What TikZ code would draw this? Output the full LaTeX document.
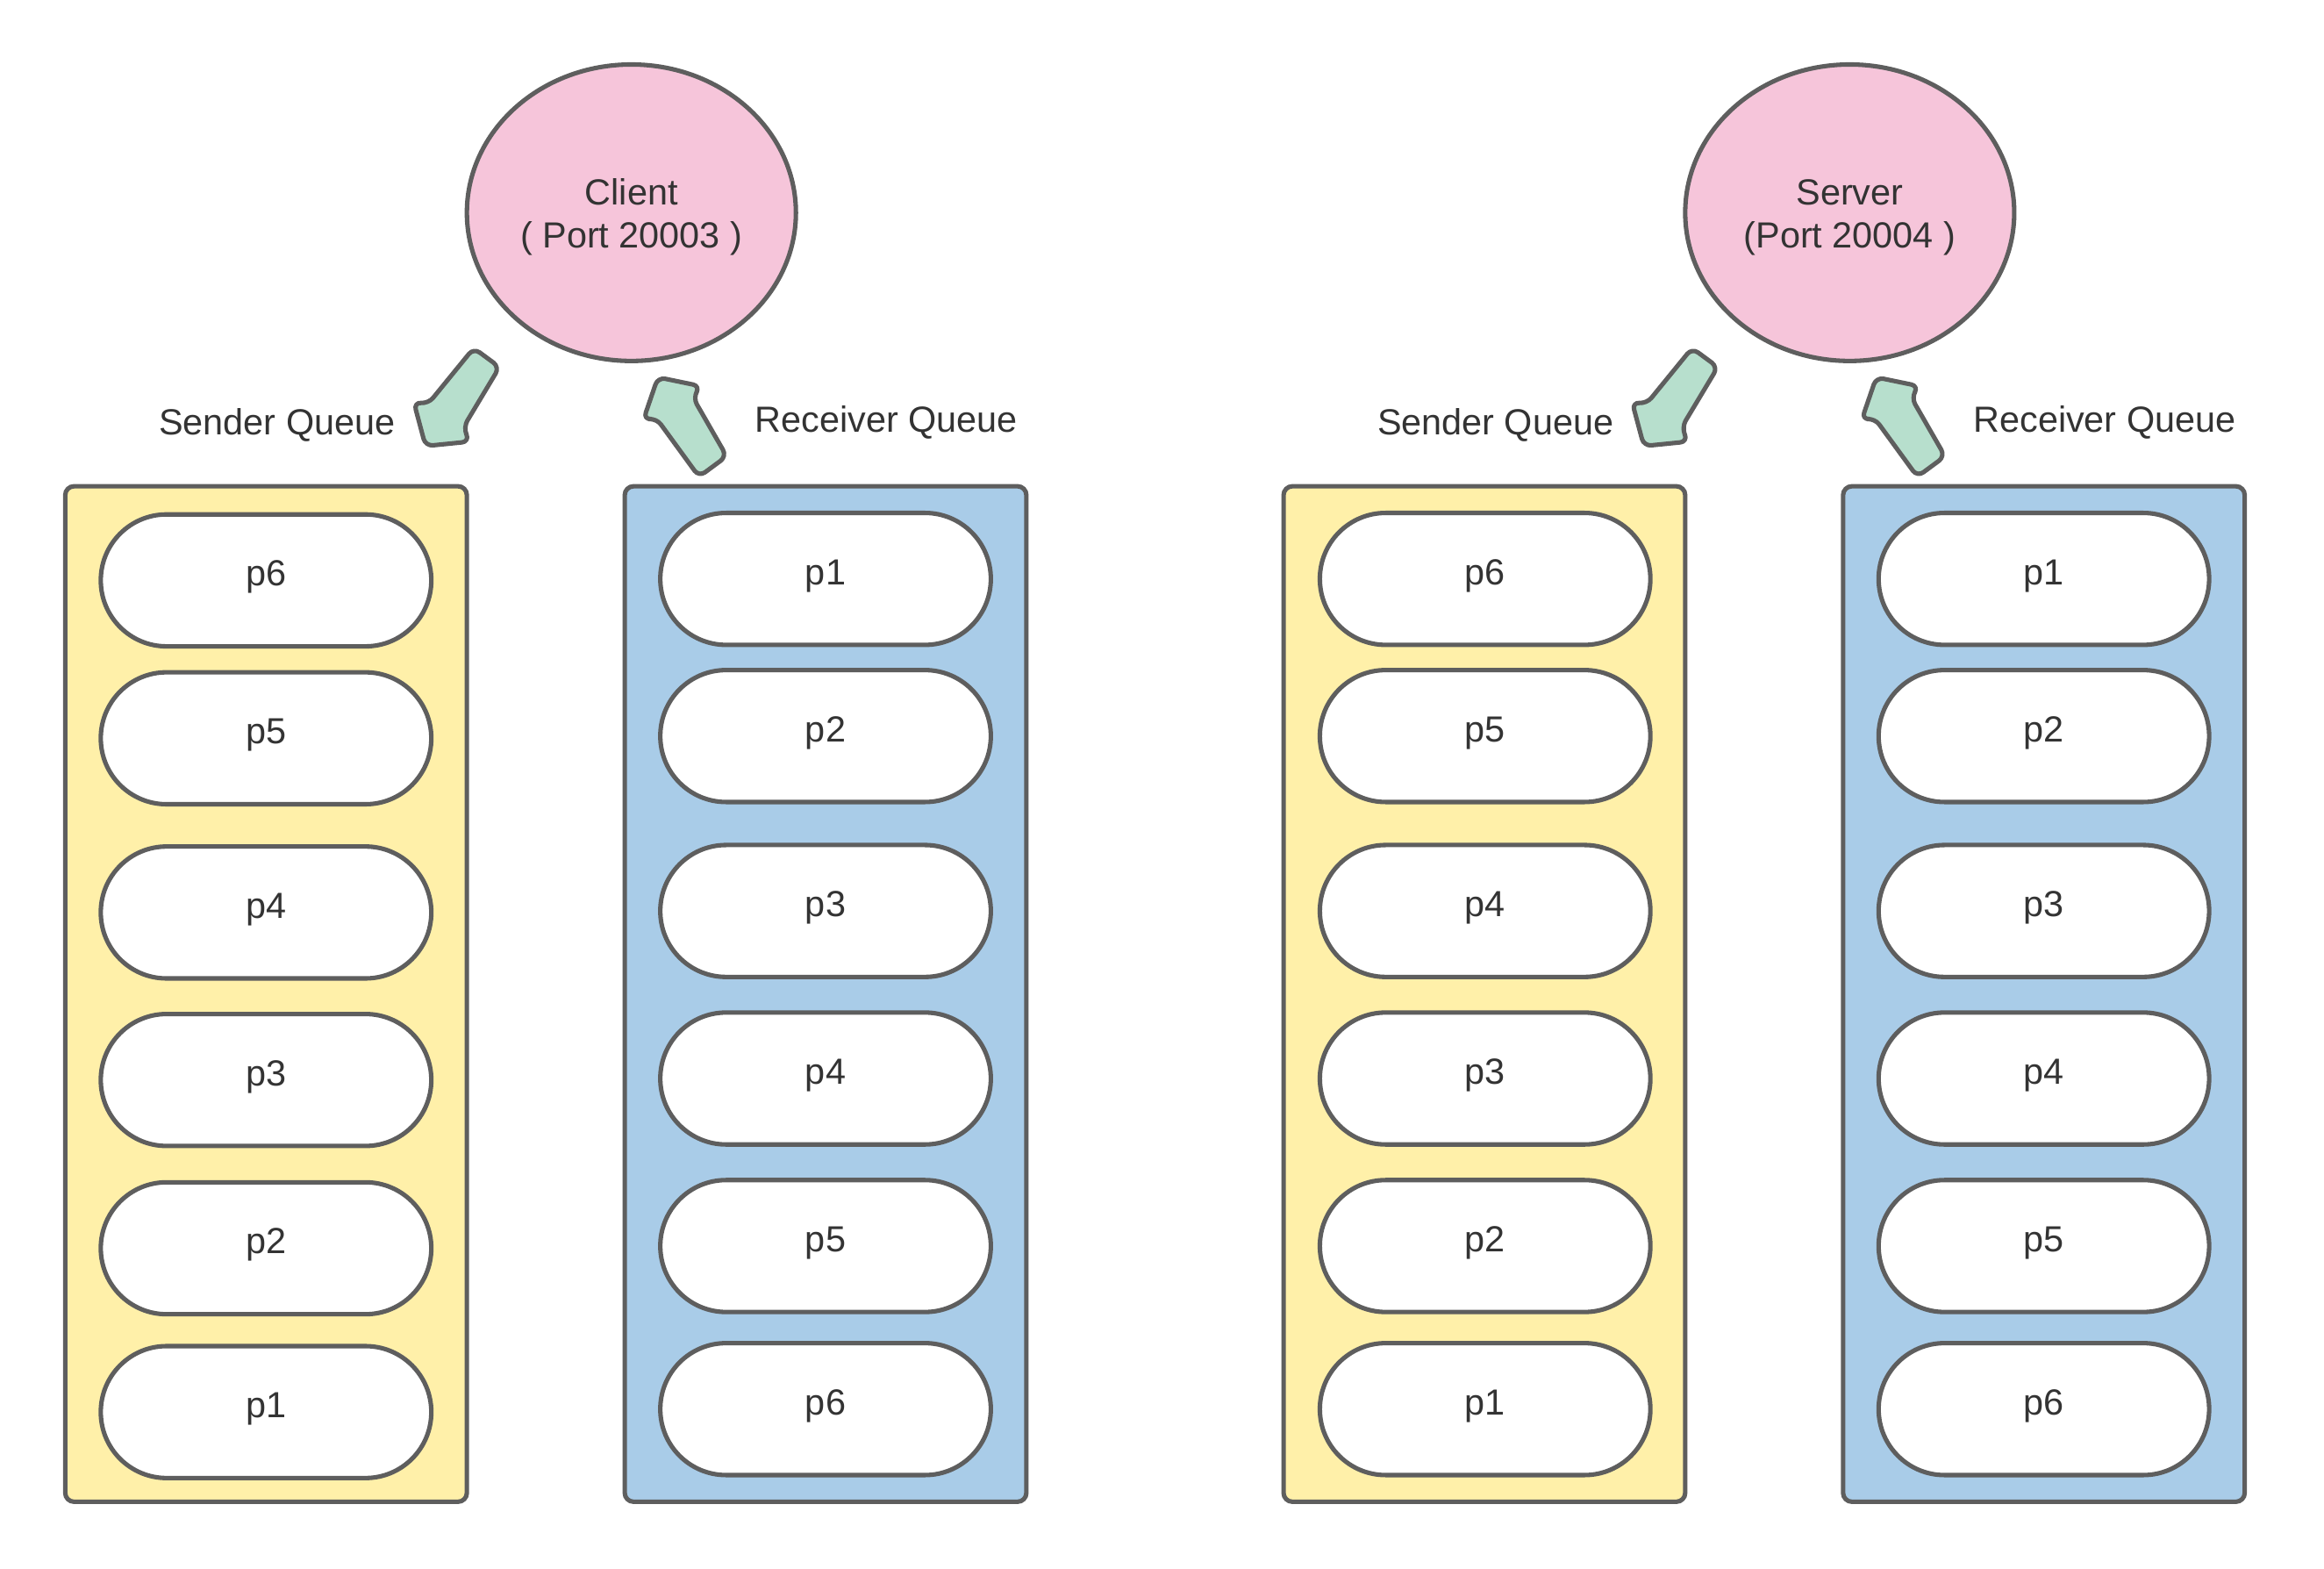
\documentclass[tikz,border=0pt]{standalone}
\usepackage{fontspec}
\setmainfont{Liberation Sans}
\usetikzlibrary{shapes.geometric}
\definecolor{strokegray}{HTML}{5E5E5E}
\definecolor{txtgray}{HTML}{333333}
\definecolor{pinkfill}{HTML}{F6C5DA}
\definecolor{yellowfill}{HTML}{FFF0A9}
\definecolor{bluefill}{HTML}{A9CCE8}
\definecolor{mintfill}{HTML}{B7DFCD}
\begin{document}
\begin{tikzpicture}[x=0.5pt,y=-0.5pt,
  every node/.style={text=txtgray, font=\fontsize{12.25}{14.5}\selectfont},
  hostnode/.style={ellipse, draw=strokegray, line width=1.5pt, fill=pinkfill, minimum width=111pt, minimum height=100pt, inner sep=0pt},
  hosttext/.style={align=center, inner sep=0pt},
  queuebox/.style={rectangle, draw=strokegray, line width=1.5pt, rounded corners=3pt, minimum width=135.5pt, minimum height=342.5pt, inner sep=0pt},
  sendbox/.style={queuebox, fill=yellowfill},
  recvbox/.style={queuebox, fill=bluefill},
  pill/.style={rectangle, draw=strokegray, line width=1.5pt, fill=white, rounded corners=22.2pt, minimum width=111.5pt, minimum height=44.5pt, inner sep=0pt, text height=6.8pt, text depth=3pt},
  blockarrow/.style={draw=strokegray, line width=1.5pt, fill=mintfill, rounded corners=2.5pt, line join=round},
  qlabel/.style={inner sep=0pt}
]
\useasboundingbox (0,0) rectangle (1568,1058);

% ---------- Client side ----------
\node[hostnode] (client) at (426,143.5) {};
\node[hosttext] (clienttxt) at (426,146.5) {Client\\( Port 20003 )};
\node[sendbox] (csend) at (179.5,670.5) {};
\node[recvbox] (crecv) at (557,670.5) {};
\node[qlabel] (csendlbl) at (187,287) {Sender Queue};
\node[qlabel] (crecvlbl) at (598,285) {Receiver Queue};

\foreach \lbl/\yy [count=\i] in {p6/391.5,p5/498,p4/615.5,p3/728.5,p2/842,p1/952.5}
  \node[pill] (cs\i) at (179.5,\yy) {\lbl};
\foreach \lbl/\yy [count=\i] in {p1/390.5,p2/496.5,p3/614.5,p4/727.5,p5/840.5,p6/950.5}
  \node[pill] (cr\i) at (557,\yy) {\lbl};

% ---------- Server side ----------
\node[hostnode] (server) at (1248,143.5) {};
\node[hosttext] (servertxt) at (1248,146.5) {Server\\(Port 20004 )};
\node[sendbox] (ssend) at (1001.5,670.5) {};
\node[recvbox] (srecv) at (1379,670.5) {};
\node[qlabel] (ssendlbl) at (1009,287) {Sender Queue};
\node[qlabel] (srecvlbl) at (1420,285) {Receiver Queue};

\foreach \lbl/\yy [count=\i] in {p6/390.5,p5/496.5,p4/614.5,p3/727.5,p2/840.5,p1/950.5}
  \node[pill] (ss\i) at (1002,\yy) {\lbl};
\foreach \lbl/\yy [count=\i] in {p1/390.5,p2/496.5,p3/614.5,p4/727.5,p5/840.5,p6/950.5}
  \node[pill] (sr\i) at (1379,\yy) {\lbl};

% ---------- Block arrows ----------
\foreach \dx in {0,822}{
  \begin{scope}[shift={(\dx,0)}]
    % sender arrow (host -> sender queue)
    \draw[blockarrow] (319.6,234.8) -- (337.0,247.6) -- (312.7,288.1) -- (316.7,297.9)
      -- (287.1,300.9) -- (279.2,271.3) -- (289.0,272.3) -- cycle;
    % receiver arrow (receiver queue -> host)
    \draw[blockarrow] (471.6,321.6) -- (490.3,307.8) -- (467.6,268.3) -- (472.5,260.4)
      -- (443.9,254.5) -- (434.1,283.1) -- (442.9,282.2) -- cycle;
  \end{scope}
}
\end{tikzpicture}
\end{document}
